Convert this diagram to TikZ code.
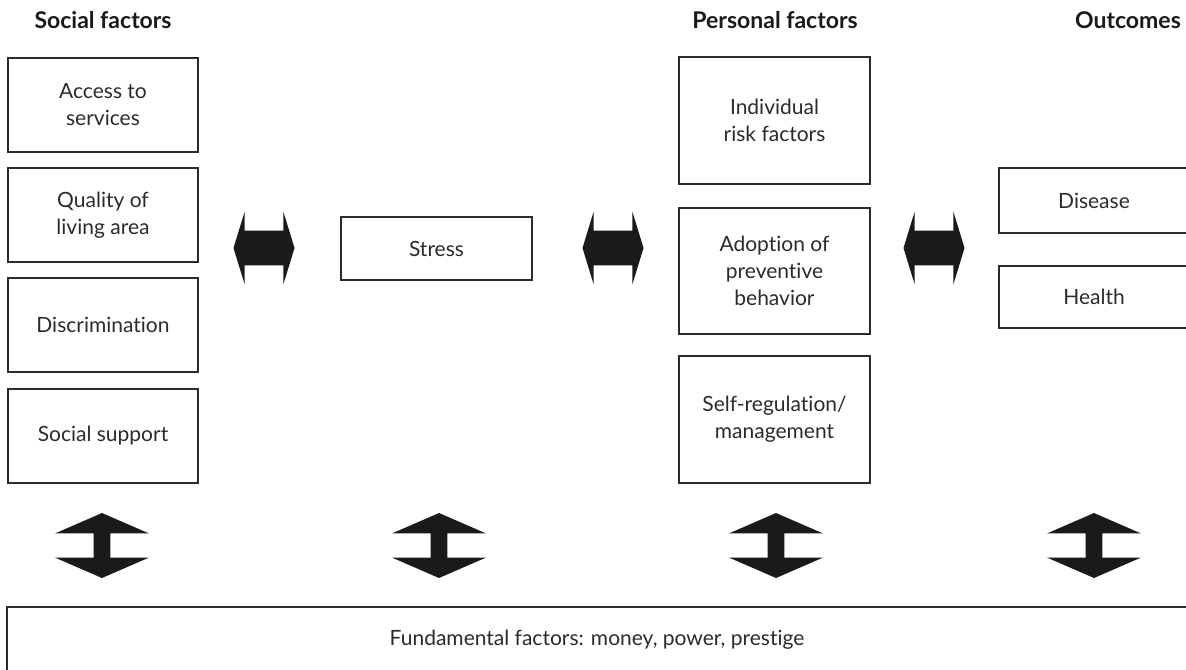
\documentclass[tikz,border=0pt]{standalone}
\usepackage{fontspec}
\setmainfont{Lato}[Ligatures=NoCommon]
\usetikzlibrary{shapes.arrows}
\definecolor{Ink}{HTML}{2B2B2B}
\definecolor{Blot}{HTML}{1A1A1A}

\tikzset{
  factor/.style={draw=Ink,line width=0.65pt,text=Ink,align=center,inner sep=0pt,
    minimum width=95pt},
  heading/.style={font=\bfseries\fontsize{11.5}{14}\selectfont,text=Blot},
  sidearrow/.style={double arrow,fill=Blot,draw=none,inner xsep=0pt,inner ysep=8.5pt,
    minimum height=30.5pt,double arrow head extend=9.5pt,
    double arrow tip angle=146},
  uparrow/.style={double arrow,fill=Blot,draw=none,inner xsep=0pt,inner ysep=4pt,rotate=90,
    minimum height=32.5pt,double arrow head extend=19.25pt,
    double arrow tip angle=133}
}

\begin{document}
\begin{tikzpicture}[x=0.5pt,y=-0.5pt,font=\fontsize{10.5}{13.5}\selectfont]
  \useasboundingbox (0,0) rectangle (1186,669);

  % Social factors (left column)
  \node[heading] (soc) at (103,20) {Social factors};
  \node[factor,minimum height=47pt] (access) at (103,105) {Access to\\services};
  \node[factor,minimum height=47pt] (quality) at (103,215) {Quality of\\living area};
  \node[factor,minimum height=47pt] (discr) at (103,325) {Discrimination};
  \node[factor,minimum height=47pt] (support) at (103,436) {Social support};

  % Stress
  \node[factor,minimum width=95.5pt,minimum height=31.5pt] (stress) at (436.5,248.5) {Stress};

  % Personal factors
  \node[heading] (pers) at (775,20) {Personal factors};
  \node[factor,minimum width=95.5pt,minimum height=63.5pt] (risk) at (774.5,120.5) {Individual\\risk factors};
  \node[factor,minimum width=95.5pt,minimum height=63pt] (adopt) at (774.5,271) {Adoption of\\preventive\\behavior};
  \node[factor,minimum width=95.5pt,minimum height=63.5pt] (selfreg) at (774.5,419.5) {Self-regulation/\\management};

  % Outcomes (cut off at the right)
  \node[heading] (outc) at (1128,20) {Outcomes};
  \node[factor,minimum height=32.5pt] (disease) at (1094,200.5) {Disease};
  \node[factor,minimum height=31pt] (health) at (1094,297) {Health};

  % Fundamental factors
  \node[factor,minimum width=590pt,minimum height=33pt] (fund) at (597,640)
    {Fundamental factors: money, power, prestige};

  % Block arrows between columns
  \node[sidearrow] (socstress) at (264,248) {};
  \node[sidearrow] (stresspers) at (613,248) {};
  \node[sidearrow] (persout) at (934,248) {};

  % Block arrows down to the fundamental factors
  \node[uparrow] (socfund) at (102,545.5) {};
  \node[uparrow] (stressfund) at (439,545.5) {};
  \node[uparrow] (persfund) at (776,545.5) {};
  \node[uparrow] (outfund) at (1094,545.5) {};
\end{tikzpicture}
\end{document}
